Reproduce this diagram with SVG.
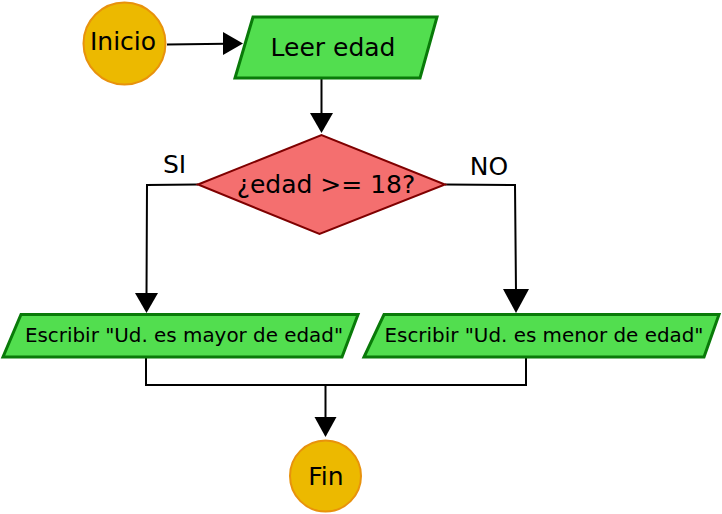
<svg xmlns="http://www.w3.org/2000/svg" width="722" height="514" viewBox="0 0 722 514">
  <defs>
    <style>
      .term { fill: #ecb900; stroke: #e8920c; stroke-width: 2; }
      .io { fill: #52de4f; stroke: #097a09; stroke-width: 3; stroke-linejoin: miter; }
      .dec { fill: #f46f6f; stroke: #7f0000; stroke-width: 2; }
      .t { font-family: "DejaVu Sans", sans-serif; fill: #000; text-anchor: middle; }
      .big { font-size: 25px; }
      .small { font-size: 19.9px; }
      .edge { fill: none; stroke: #000; stroke-width: 2; }
      .head { fill: #000; stroke: none; }
    </style>
  </defs>

  <g id="connectors">
    <path class="edge" d="M167,44.5 L226,43.7"/>
    <polygon class="head" points="243,43.5 223,32 223,55"/>
    <path class="edge" d="M321.5,79 L321.5,115"/>
    <polygon class="head" points="321.5,133 310,113 333,113"/>
    <path class="edge" d="M198,184.5 L147,185 L146.5,296"/>
    <polygon class="head" points="146.5,313 135,293 158,293"/>
    <path class="edge" d="M445,184.5 L515,185 L516,292"/>
    <polygon class="head" points="516,313 503,289 529,289"/>
    <path class="edge" d="M146,357 L146,385 L526,385 L526,357"/>
    <path class="edge" d="M325.5,385 L325.5,419"/>
    <polygon class="head" points="325.5,437 314.5,417 336.5,417"/>
  </g>

  <g id="inicio">
    <circle class="term" cx="124.5" cy="43.5" r="41"/>
    <text class="t big" x="123" y="50">Inicio</text>
  </g>

  <g id="leer">
    <polygon class="io" points="253,17 437,17 420,78 235,78"/>
    <text class="t big" x="333" y="56">Leer edad</text>
  </g>

  <g id="decision">
    <polygon class="dec" points="198,184.5 321.5,135 445,184.5 319.5,234"/>
    <text class="t big" x="326" y="193">¿edad &gt;= 18?</text>
  </g>

  <g id="label-si">
    <text class="t big" x="174.5" y="173">SI</text>
  </g>
  <g id="label-no">
    <text class="t big" x="489" y="175">NO</text>
  </g>

  <g id="mayor">
    <polygon class="io" points="21,314.5 358,314.5 342,357 3,357"/>
    <text class="t small" x="184" y="342">Escribir "Ud. es mayor de edad"</text>
  </g>

  <g id="menor">
    <polygon class="io" points="384,314.5 719,314.5 704,357 364,357"/>
    <text class="t small" x="544" y="342">Escribir "Ud. es menor de edad"</text>
  </g>

  <g id="fin">
    <circle class="term" cx="325.5" cy="476" r="35.5"/>
    <text class="t big" x="326" y="485">Fin</text>
  </g>
</svg>
